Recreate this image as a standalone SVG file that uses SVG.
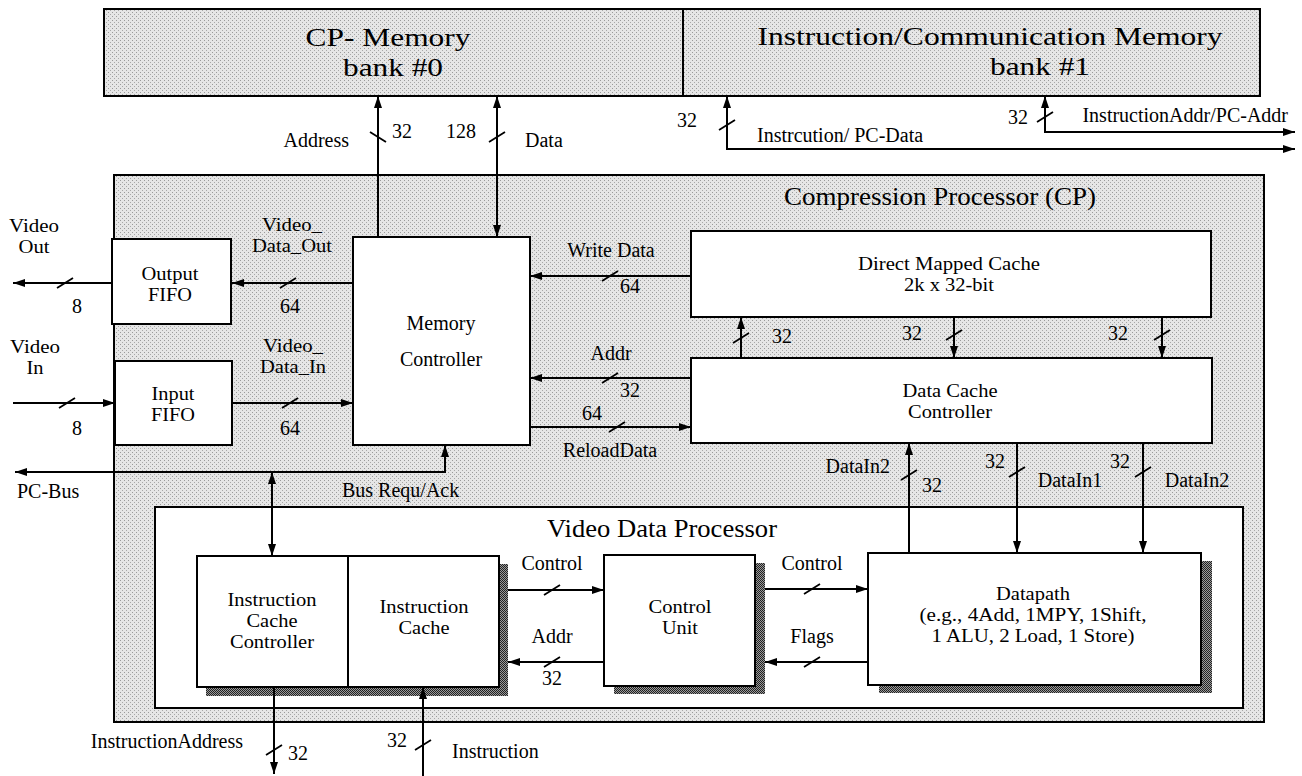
<svg xmlns="http://www.w3.org/2000/svg" width="1302" height="776" viewBox="0 0 1302 776">
<defs>
<pattern id="stip" width="4" height="4" patternUnits="userSpaceOnUse"><rect width="4" height="4" fill="#e6e6e6"/><rect x="0" y="0" width="1" height="1" fill="#9a9a9a"/><rect x="2" y="2" width="1" height="1" fill="#a8a8a8"/></pattern>
<pattern id="dark" width="2" height="2" patternUnits="userSpaceOnUse"><rect width="2" height="2" fill="#9a9a9a"/><rect width="1" height="1" fill="#222"/><rect x="1" y="1" width="1" height="1" fill="#222"/></pattern>
<marker id="ah" viewBox="0 0 12 8" refX="12" refY="4" markerWidth="12" markerHeight="8" markerUnits="userSpaceOnUse" orient="auto-start-reverse"><path d="M0,0 L12,4 L0,8 z" fill="#000"/></marker>
</defs>
<style>
.box{fill:#fff;stroke:#000;stroke-width:2}
.gbox{fill:url(#stip);stroke:#000;stroke-width:2}
.sh{fill:url(#dark)}
.w{fill:none;stroke:#000;stroke-width:2}
.a1{marker-end:url(#ah)}
.a2{marker-start:url(#ah);marker-end:url(#ah)}
.sl{fill:none;stroke:#000;stroke-width:1.8}
text{font-family:"Liberation Serif","Times New Roman",serif;fill:#000;font-size:20px}
.c{text-anchor:middle}
.e{text-anchor:end}
.m{font-size:18px;text-anchor:middle}
.big{font-size:26px;text-anchor:middle}
.mid{font-size:26px;text-anchor:middle}
</style>
<rect width="1302" height="776" fill="#fff"/>

<g id="mem0">
<rect class="gbox" x="104" y="9" width="579" height="87"/>
<text class="big" x="388" y="46" textLength="165" lengthAdjust="spacingAndGlyphs">CP- Memory</text>
<text class="big" x="393" y="76" textLength="100" lengthAdjust="spacingAndGlyphs">bank #0</text>
</g>
<g id="mem1">
<rect class="gbox" x="683" y="9" width="577" height="87"/>
<text class="big" x="990" y="45" textLength="465" lengthAdjust="spacingAndGlyphs">Instruction/Communication Memory</text>
<text class="big" x="1040" y="75" textLength="100" lengthAdjust="spacingAndGlyphs">bank #1</text>
</g>

<g id="cp">
<rect class="gbox" x="114" y="175" width="1150" height="547"/>
<text class="mid" x="940" y="205" textLength="312" lengthAdjust="spacingAndGlyphs">Compression Processor (CP)</text>
</g>

<g id="outfifo">
<rect class="box" x="112" y="239" width="119" height="85"/>
<text class="m" x="170" y="280" textLength="57" lengthAdjust="spacingAndGlyphs">Output</text>
<text class="m" x="170" y="301" textLength="44" lengthAdjust="spacingAndGlyphs">FIFO</text>
</g>
<g id="infifo">
<rect class="box" x="115" y="361" width="117" height="84"/>
<text class="m" x="173" y="400" textLength="43" lengthAdjust="spacingAndGlyphs">Input</text>
<text class="m" x="173" y="421" textLength="44" lengthAdjust="spacingAndGlyphs">FIFO</text>
</g>
<g id="memctrl">
<rect class="box" x="353" y="237" width="177" height="208"/>
<text class="c" x="441" y="330">Memory</text>
<text class="c" x="441" y="366">Controller</text>
</g>
<g id="dmc">
<rect class="box" x="691" y="231" width="520" height="86"/>
<text class="m" x="949" y="270" textLength="182" lengthAdjust="spacingAndGlyphs">Direct Mapped Cache</text>
<text class="m" x="949" y="291" textLength="90" lengthAdjust="spacingAndGlyphs">2k x 32-bit</text>
</g>
<g id="dcc">
<rect class="box" x="691" y="358" width="521" height="85"/>
<text class="m" x="950" y="397" textLength="95" lengthAdjust="spacingAndGlyphs">Data Cache</text>
<text class="m" x="950" y="418" textLength="84" lengthAdjust="spacingAndGlyphs">Controller</text>
</g>

<g id="vdp">
<rect class="box" x="155" y="507" width="1088" height="201"/>
<text class="mid" x="662" y="537" textLength="230" lengthAdjust="spacingAndGlyphs">Video Data Processor</text>
</g>

<g id="icache-unit">
<rect class="sh" x="206" y="564" width="302" height="132"/>
<g id="icc">
<rect class="box" x="197" y="556" width="151" height="131"/>
<text class="m" x="272" y="606" textLength="89" lengthAdjust="spacingAndGlyphs">Instruction</text>
<text class="m" x="272" y="627" textLength="51" lengthAdjust="spacingAndGlyphs">Cache</text>
<text class="m" x="272" y="648" textLength="84" lengthAdjust="spacingAndGlyphs">Controller</text>
</g>
<g id="ic">
<rect class="box" x="348" y="556" width="151" height="131"/>
<text class="m" x="424" y="613" textLength="89" lengthAdjust="spacingAndGlyphs">Instruction</text>
<text class="m" x="424" y="634" textLength="51" lengthAdjust="spacingAndGlyphs">Cache</text>
</g>
</g>

<g id="cu">
<rect class="sh" x="614" y="563" width="151" height="131"/>
<rect class="box" x="604" y="555" width="151" height="131"/>
<text class="m" x="680" y="613" textLength="63" lengthAdjust="spacingAndGlyphs">Control</text>
<text class="m" x="680" y="634" textLength="36" lengthAdjust="spacingAndGlyphs">Unit</text>
</g>

<g id="datapath">
<rect class="sh" x="879" y="561" width="333" height="132"/>
<rect class="box" x="868" y="553" width="333" height="132"/>
<text class="m" x="1033" y="600" textLength="74" lengthAdjust="spacingAndGlyphs">Datapath</text>
<text class="m" x="1033" y="621" textLength="227" lengthAdjust="spacingAndGlyphs">(e.g., 4Add, 1MPY, 1Shift,</text>
<text class="m" x="1033" y="642" textLength="203" lengthAdjust="spacingAndGlyphs">1 ALU, 2 Load, 1 Store)</text>
</g>

<g id="connectors">
<path class="w a1" d="M378,237 V96"/>
<path class="w a2" d="M497,237 V96"/>
<path class="w a2" d="M727,96 V149 H1295"/>
<path class="w a2" d="M1045,96 V132 H1295"/>
<path class="w a1" d="M112,283 H13"/>
<path class="w a1" d="M13,403 H115"/>
<path class="w a1" d="M353,283 H232"/>
<path class="w a1" d="M232,403 H353"/>
<path class="w a1" d="M691,276 H530"/>
<path class="w a1" d="M691,378 H530"/>
<path class="w a1" d="M530,427 H691"/>
<path class="w a1" d="M741,358 V317"/>
<path class="w a1" d="M954,317 V358"/>
<path class="w a1" d="M1162,317 V358"/>
<path class="w a1" d="M909,553 V443"/>
<path class="w a1" d="M1017,443 V553"/>
<path class="w a1" d="M1143,443 V553"/>
<path class="w a2" d="M445,445 V472 H15"/>
<path class="w a2" d="M272,472 V556"/>
<path class="w a1" d="M508,590 H604"/>
<path class="w a1" d="M604,662 H508"/>
<path class="w a1" d="M765,589 H868"/>
<path class="w a1" d="M868,662 H765"/>
<path class="w a1" d="M274,687 V774"/>
<path class="w a1" d="M423,776 V687"/>

<path class="sl" d="M370,132 L386,142 M489,142 L505,132 M719,130 L735,120 M1037,122 L1053,112 M57,288 L73,278 M59,408 L75,398 M280,288 L296,278 M282,408 L298,398 M602,281 L618,271 M602,383 L618,373 M609,432 L625,422 M733,343 L749,333 M946,340 L962,330 M1154,340 L1170,330 M901,480 L917,470 M1009,477 L1025,467 M1135,477 L1151,467 M544,595 L560,585 M544,667 L560,657 M804,594 L820,584 M804,667 L820,657 M266,755 L282,745 M415,750 L431,740"/>

<text class="e" x="349" y="147">Address</text>
<text x="392" y="138">32</text>
<text class="e" x="476" y="138">128</text>
<text x="525" y="147">Data</text>
<text class="c" x="687" y="127">32</text>
<text x="757" y="142">Instrcution/ PC-Data</text>
<text class="c" x="1018" y="124">32</text>
<text class="e" x="1288" y="122">InstructionAddr/PC-Addr</text>
<text class="m" x="34" y="232" textLength="50" lengthAdjust="spacingAndGlyphs">Video</text>
<text class="m" x="34" y="253" textLength="31" lengthAdjust="spacingAndGlyphs">Out</text>
<text class="c" x="77" y="313">8</text>
<text class="m" x="292" y="231" textLength="60" lengthAdjust="spacingAndGlyphs">Video_</text>
<text class="m" x="292" y="252" textLength="80" lengthAdjust="spacingAndGlyphs">Data_Out</text>
<text class="c" x="290" y="313">64</text>
<text class="m" x="35" y="353" textLength="50" lengthAdjust="spacingAndGlyphs">Video</text>
<text class="m" x="35" y="374" textLength="17" lengthAdjust="spacingAndGlyphs">In</text>
<text class="c" x="77" y="435">8</text>
<text class="m" x="293" y="352" textLength="60" lengthAdjust="spacingAndGlyphs">Video_</text>
<text class="m" x="293" y="373" textLength="66" lengthAdjust="spacingAndGlyphs">Data_In</text>
<text class="c" x="290" y="435">64</text>
<text class="c" x="611" y="257">Write Data</text>
<text class="c" x="630" y="293">64</text>
<text class="c" x="611" y="360">Addr</text>
<text class="c" x="630" y="397">32</text>
<text class="c" x="592" y="420">64</text>
<text class="c" x="610" y="457">ReloadData</text>
<text class="c" x="782" y="343">32</text>
<text class="c" x="912" y="340">32</text>
<text class="c" x="1118" y="340">32</text>
<text class="e" x="890" y="473">DataIn2</text>
<text class="c" x="932" y="492">32</text>
<text class="c" x="995" y="468">32</text>
<text class="c" x="1070" y="487">DataIn1</text>
<text class="c" x="1120" y="468">32</text>
<text class="c" x="1197" y="487">DataIn2</text>
<text x="17" y="498">PC-Bus</text>
<text x="342" y="497">Bus Requ/Ack</text>
<text class="c" x="552" y="570">Control</text>
<text class="c" x="552" y="643">Addr</text>
<text class="c" x="552" y="685">32</text>
<text class="c" x="812" y="570">Control</text>
<text class="c" x="812" y="643">Flags</text>
<text class="e" x="243" y="748">InstructionAddress</text>
<text class="c" x="298" y="760">32</text>
<text class="c" x="397" y="747">32</text>
<text x="452" y="758">Instruction</text>
</g>
</svg>
